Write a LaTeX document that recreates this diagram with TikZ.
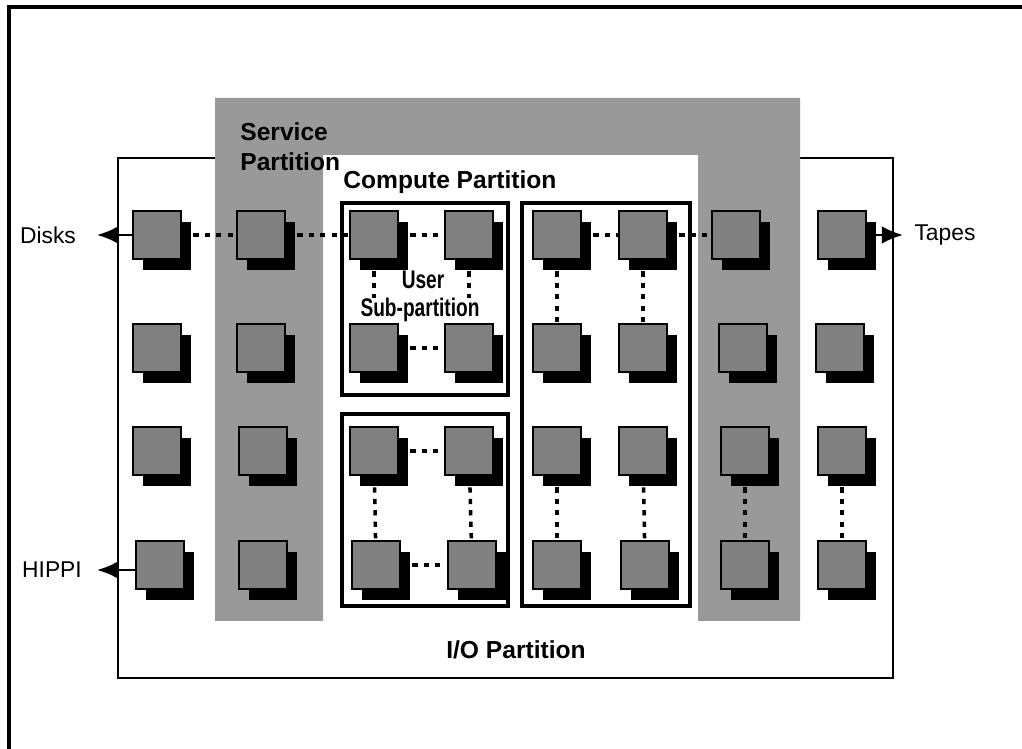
\documentclass[tikz,border=0pt]{standalone}
\usepackage{fontspec}
\setmainfont{Liberation Sans}
\usepackage{graphicx}
\usetikzlibrary{arrows.meta,shadows}

\begin{document}
\begin{tikzpicture}[x=0.02cm,y=-0.02cm,font=\fontsize{13}{15}\selectfont,
  proc/.style={draw,line width=1.1pt,fill=black!50,minimum size=0.96cm,inner sep=0pt,
    drop shadow={shadow xshift=0.2cm,shadow yshift=-0.22cm,fill=black,opacity=1}},
  part/.style={font=\fontsize{14}{17}\selectfont\bfseries,align=left,inner sep=0pt},
  usub/.style={font=\fontsize{14.5}{15}\selectfont\bfseries,inner sep=0pt},
  grp/.style={draw,line width=1.8pt},
  link/.style={line width=2pt,dash pattern=on 3pt off 3.5pt},
  arr/.style={-{Latex[length=12pt,width=10pt]},line width=1.4pt}]
\useasboundingbox (0,0) rectangle (1022,749);
\draw[line width=1.8pt] (9,749) -- (9,7) -- (1022,7);
% partitions
\draw[line width=1.5pt] (215,158) -| (118,678) -| (893,158) -- (800,158);
\fill[black!40] (215,98) -- (800,98) -- (800,621) -- (698,621) -- (698,155) -- (323,155) -- (323,621) -- (215,621) -- cycle;
\draw[grp] (342,203) rectangle (508,395);
\draw[grp] (342,414) rectangle (508,606);
\draw[grp] (522,203) rectangle (690,606);
\node[part,anchor=north west] (svc) at (240,122) {Service\\Partition};
\node[part,anchor=north west] (cmp) at (343,170) {Compute Partition};
\node[part,anchor=north] (io) at (516,640) {I/O Partition};
% nodes
\node[proc] (p11) at (157,235) {}; \node[proc] (p12) at (157,348) {}; \node[proc] (p13) at (157,451) {}; \node[proc] (p14) at (160,565) {};
\node[proc] (p21) at (261,235) {}; \node[proc] (p22) at (261,348) {}; \node[proc] (p23) at (263,451) {}; \node[proc] (p24) at (263,565) {};
\node[proc] (p31) at (374,235) {}; \node[proc] (p32) at (374,348) {}; \node[proc] (p33) at (374,451) {}; \node[proc] (p34) at (376,565) {};
\node[proc] (p41) at (469,235) {}; \node[proc] (p42) at (469,348) {}; \node[proc] (p43) at (469,451) {}; \node[proc] (p44) at (472,565) {};
\node[proc] (p51) at (557,235) {}; \node[proc] (p52) at (557,348) {}; \node[proc] (p53) at (557,451) {}; \node[proc] (p54) at (557,565) {};
\node[proc] (p61) at (643,235) {}; \node[proc] (p62) at (643,348) {}; \node[proc] (p63) at (643,451) {}; \node[proc] (p64) at (645,565) {};
\node[proc] (p71) at (736,235) {}; \node[proc] (p72) at (743,348) {}; \node[proc] (p73) at (745,451) {}; \node[proc] (p74) at (745,565) {};
\node[proc] (p81) at (842,235) {}; \node[proc] (p82) at (840,348) {}; \node[proc] (p83) at (842,451) {}; \node[proc] (p84) at (842,565) {};
% links
\draw[link] (p11)--(p21); \draw[link] (p21)--(p31); \draw[link] (p31)--(p41);
\draw[link] (p51)--(p61); \draw[link] (p61)--(p71);
\draw[link] (p31)--(p32); \draw[link] (p41)--(p42); \draw[link] (p32)--(p42);
\draw[link] (p33)--(p43); \draw[link] (p34)--(p44); \draw[link] (p33)--(p34); \draw[link] (p43)--(p44);
\draw[link] (p51)--(p52); \draw[link] (p61)--(p62); \draw[link] (p53)--(p54); \draw[link] (p63)--(p64);
\draw[link] (p73)--(p74); \draw[link] (p83)--(p84);
\node[usub] (usr) at (423,280) {\scalebox{0.75}[1]{User}};
\node[usub,fill=white] (sub) at (420,310) {\scalebox{0.75}[1]{Sub-partition}};
% i/o
\node (disks) at (48,235) {Disks};
\node (hippi) at (52,570) {HIPPI};
\node (tapes) at (945,235) {Tapes};
\coordinate (dk) at (97,235); \coordinate (hp) at (97,570); \coordinate (tp) at (903,235);
\draw[arr] (p11.west) -- (dk); \draw[arr] (p14.west|-hp) -- (hp); \draw[arr] (p81.east) -- (tp);
\end{tikzpicture}
\end{document}
